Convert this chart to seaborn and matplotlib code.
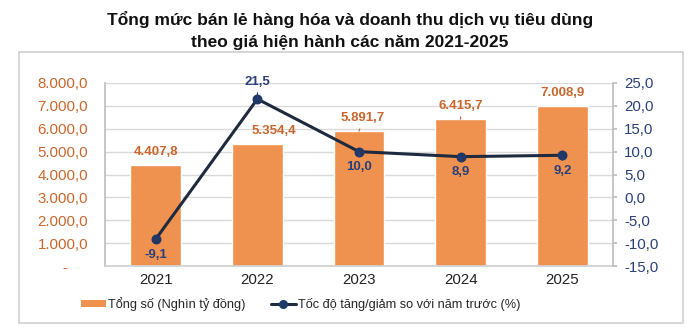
import matplotlib
matplotlib.use("Agg")
import matplotlib.pyplot as plt
import seaborn as sns
import pandas as pd
from matplotlib.patches import Rectangle, Patch
from matplotlib.lines import Line2D
from matplotlib.ticker import FixedLocator, FuncFormatter

years = ["2021", "2022", "2023", "2024", "2025"]
totals = [4407.8, 5354.4, 5891.7, 6415.7, 7008.9]
growth = [-9.1, 21.5, 10.0, 8.9, 9.2]
title = "Tổng mức bán lẻ hàng hóa và doanh thu dịch vụ tiêu dùng\ntheo giá hiện hành các năm 2021-2025"
legend_bar = "Tổng số (Nghìn tỷ đồng)"
legend_line = "Tốc độ tăng/giảm so với năm trước (%)"

ORANGE = "#F0924F"
ORANGE_TXT = "#C8662C"
NAVY = "#1F3866"
LINE = "#1E2A3E"
NAVY_TXT = "#2B3F7A"

sns.set_theme(style="white")
plt.rcParams["font.family"] = ["Liberation Sans", "DejaVu Sans"]

df = pd.DataFrame({"year": years, "total": totals, "growth": growth})

fig = plt.figure(figsize=(7, 3.32), dpi=100)
ax = fig.add_axes([105/700, 1-266/332, (613-105)/700, (266-83)/332])

sns.barplot(data=df, x="year", y="total", color=ORANGE, width=0.5, ax=ax, saturation=1)
ax.set_ylim(0, 8000)
ax.yaxis.set_major_locator(FixedLocator(list(range(0, 8001, 1000))))

def fmt_left(v, p):
    if abs(v) < 1e-9:
        return "-     "
    s = f"{v:,.1f}"
    return s.replace(",", "X").replace(".", ",").replace("X", ".")
ax.yaxis.set_major_formatter(FuncFormatter(fmt_left))
ax.grid(axis="y", color="#D9D9D9", linewidth=1)
ax.set_axisbelow(True)
ax.set_xlabel("")
ax.set_ylabel("")
for s in ["top", "right"]:
    ax.spines[s].set_visible(False)
ax.spines["left"].set_color("#BFBFBF")
ax.spines["bottom"].set_color("#D0D0D0")
ax.tick_params(axis="y", colors=ORANGE_TXT, labelsize=10.8, length=0, pad=12)
ax.tick_params(axis="x", colors="#222222", labelsize=10.8, length=0, pad=5)
for lab in ax.get_yticklabels():
    lab.set_color(ORANGE_TXT)

bar_dx = [0, 12, 3, 0, 0]
bar_leader = [False, False, True, True, False]
for i, v in enumerate(totals):
    s = f"{v:,.1f}".replace(",", "X").replace(".", ",").replace("X", ".")
    kw = {}
    if bar_leader[i]:
        kw["arrowprops"] = dict(arrowstyle="-", color=ORANGE_TXT, lw=0.8, shrinkA=1, shrinkB=0)
    ax.annotate(s, (i, v), xytext=(bar_dx[i], 5), textcoords="offset points",
                ha="center", va="bottom", color=ORANGE_TXT, fontsize=9.5, fontweight="bold", **kw)

ax2 = ax.twinx()
sns.pointplot(data=df, x="year", y="growth", color=LINE, markers="o", linestyles="-",
              ax=ax2, markersize=5.5, linewidth=2.2)
for coll in ax2.lines:
    coll.set_markerfacecolor(NAVY)
    coll.set_markeredgecolor(NAVY)
ax2.set_ylim(-15, 25)
ax2.yaxis.set_major_locator(FixedLocator(list(range(-15, 26, 5))))
ax2.yaxis.set_major_formatter(FuncFormatter(lambda v, p: f"{v:.1f}".replace(".", ",")))
ax2.set_xlabel("")
ax2.set_ylabel("")
for s in ["top", "left", "bottom"]:
    ax2.spines[s].set_visible(False)
ax2.spines["right"].set_color("#BFBFBF")
ax2.tick_params(axis="y", colors=NAVY_TXT, labelsize=10.8, length=3, color="#BFBFBF", pad=5)
ax2.grid(False)

line_leader = [False, True, True, True, True]
for i, v in enumerate(growth):
    s = f"{v:.1f}".replace(".", ",")
    kw = {}
    if line_leader[i]:
        kw["arrowprops"] = dict(arrowstyle="-", color=NAVY_TXT, lw=0.8, shrinkA=1, shrinkB=0)
    if i == 1:
        ax2.annotate(s, (i, v), xytext=(0, 8), textcoords="offset points",
                     ha="center", va="bottom", color=NAVY_TXT, fontsize=9.5, fontweight="bold", **kw)
    else:
        ax2.annotate(s, (i, v), xytext=(0, -7), textcoords="offset points",
                     ha="center", va="top", color=NAVY_TXT, fontsize=9.5, fontweight="bold", **kw)

handles = [Patch(facecolor=ORANGE, edgecolor="none"),
           Line2D([], [], color=LINE, linewidth=2.2, marker="o", markersize=5.5,
                  markerfacecolor=NAVY, markeredgecolor=NAVY)]
fig.legend(handles, [legend_bar, legend_line], loc="center", bbox_to_anchor=(301/700, 1-304/332),
           ncol=2, frameon=False, fontsize=9.2, handlelength=1.9, handleheight=0.45,
           columnspacing=2.0, handletextpad=0.2, borderpad=0)

fig.text(0.5, 1-30.5/332, title, ha="center", va="center", fontsize=12.5, fontweight="bold",
         color="#111111", linespacing=1.5)

fig.patches.append(Rectangle((19/700, 1-323/332), (683-19)/700, (323-52)/332,
                             transform=fig.transFigure, fill=False, edgecolor="#CFCFCF",
                             linewidth=1.2, zorder=0))

fig.savefig("out.png", dpi=100)
